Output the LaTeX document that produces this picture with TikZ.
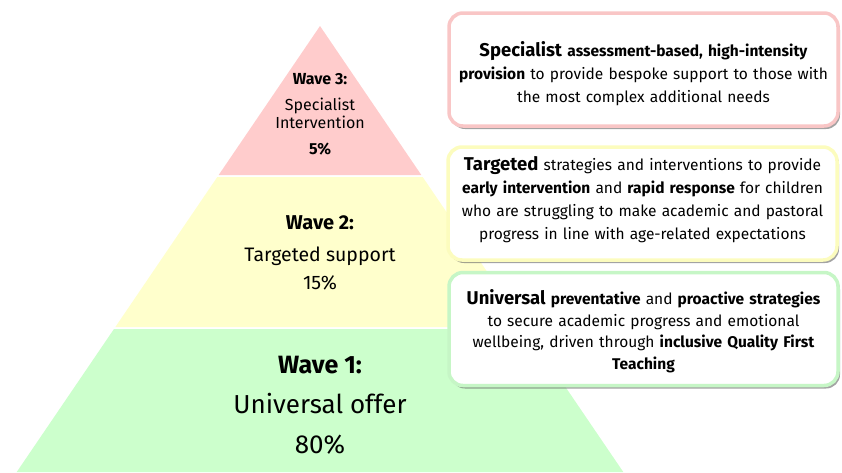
\documentclass[tikz,border=0pt]{standalone}
\usepackage{fontspec}
\setmainfont{Fira Sans}
\usetikzlibrary{shadows}

\definecolor{wavepink}{HTML}{FFCCCC}
\definecolor{waveyellow}{HTML}{FFFFCC}
\definecolor{wavegreen}{HTML}{CCFFCC}
\definecolor{edgepink}{HTML}{F9C6C6}
\definecolor{edgeyellow}{HTML}{FCFCBE}
\definecolor{edgegreen}{HTML}{C6F6C6}

\tikzset{
  wavebox/.style={draw=#1, line width=3.5pt, fill=white, rounded corners=14pt,
    minimum width=389pt, minimum height=113pt, inner sep=0pt,
    drop shadow={shadow xshift=2pt, shadow yshift=-3pt, fill=black!60, opacity=0.6}},
  boxtext/.style={text width=392pt, align=center, inner sep=0pt,
    font=\fontsize{15.5}{23}\selectfont},
  wavelabel/.style={anchor=base, inner sep=0pt}
}

\begin{document}
\begin{tikzpicture}[x=1pt,y=-1pt]
\useasboundingbox (0,0) rectangle (842,472);

% Pyramid bands (apex at 320,26)
\foreach \top/\bot/\col in {26/175/wavepink, 177/327/waveyellow, 329/472/wavegreen}
{
    \fill[\col] ({320-0.68*(\top-26)},\top) -- ({320+0.68*(\top-26)},\top)
        -- ({320+0.68*(\bot-26)},\bot) -- ({320-0.68*(\bot-26)},\bot) -- cycle;
}

% Wave 3 labels
\node[wavelabel, font=\fontsize{16}{18}\selectfont\bfseries] (w3head) at (320,84) {Wave 3:};
\node[wavelabel, font=\fontsize{16}{18}\selectfont] (w3name) at (320,110) {Specialist};
\node[wavelabel, font=\fontsize{16}{18}\selectfont] (w3name2) at (320,128) {Intervention};
\node[wavelabel, font=\fontsize{16}{18}\selectfont\bfseries] (w3pct) at (320,154) {5\%};

% Wave 2 labels
\node[wavelabel, font=\fontsize{20}{22}\selectfont\bfseries] (w2head) at (320,229) {Wave 2:};
\node[wavelabel, font=\fontsize{19.5}{22}\selectfont] (w2name) at (320,261) {Targeted support};
\node[wavelabel, font=\fontsize{19.5}{22}\selectfont] (w2pct) at (320,289) {15\%};

% Wave 1 labels
\node[wavelabel, font=\fontsize{25}{28}\selectfont\bfseries] (w1head) at (320,373) {Wave 1:};
\node[wavelabel, font=\fontsize{26}{28}\selectfont] (w1name) at (320,413) {Universal offer};
\node[wavelabel, font=\fontsize{26}{28}\selectfont] (w1pct) at (320,453) {80\%};

% Description boxes
\node[wavebox=edgepink] (specbox) at (643.5,69.5) {};
\node[boxtext] (spectext) at ([yshift=-4pt]specbox.center)
    {{\fontsize{18.5}{23}\selectfont\bfseries Specialist} \textbf{assessment-based, high-intensity}\\
     \textbf{provision} to provide bespoke support to those with\\
     the most complex additional needs};

\node[wavebox=edgeyellow] (targbox) at (642.5,203.5) {};
\node[boxtext] (targtext) at ([yshift=4pt]targbox.center)
    {{\fontsize{18.5}{23}\selectfont\bfseries Targeted} strategies and interventions to provide\\
     \textbf{early intervention} and \textbf{rapid response} for children\\
     who are struggling to make academic and pastoral\\
     progress in line with age-related expectations};

\node[wavebox=edgegreen] (univbox) at (643.5,329) {};
\node[boxtext, font=\fontsize{15.5}{21.5}\selectfont] (univtext) at ([yshift=-2pt]univbox.center)
    {{\fontsize{18.5}{21.5}\selectfont\bfseries Universal} \textbf{preventative} and \textbf{proactive strategies}\\
     to secure academic progress and emotional\\
     wellbeing, driven through \textbf{inclusive Quality First}\\
     \textbf{Teaching}};

\end{tikzpicture}
\end{document}
